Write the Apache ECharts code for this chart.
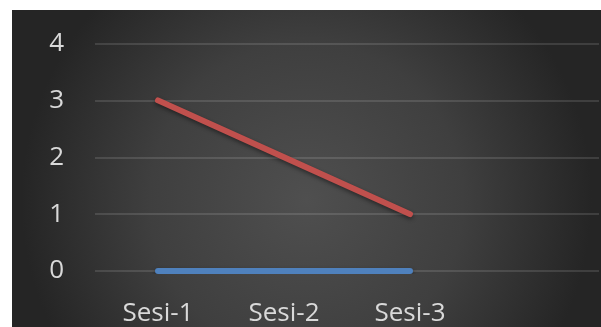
<!DOCTYPE html>
<html>
<head>
<meta charset="utf-8">
<script src="https://cdn.jsdelivr.net/npm/echarts@6/dist/echarts.min.js"></script>
<style>
  html, body { margin: 0; padding: 0; background: #ffffff; width: 601px; height: 327px; overflow: hidden; }
  #chart { position: absolute; left: 12px; top: 10px; width: 589px; height: 317px; }
</style>
</head>
<body>
<div id="chart"></div>
<script>
// Session categories (last slot left empty on purpose)
const categories = ['Sesi-1', 'Sesi-2', 'Sesi-3', ''];
// Series values per session
const seriesBlue = [0, 0, 0];
const seriesRed = [3, 2, 1];
// Value axis range
const yMin = 0;
const yMax = 4;
const yStep = 1;

const chart = echarts.init(document.getElementById('chart'), null, { renderer: 'canvas' });

const labelFont = '"Open Sans", "Noto Sans", sans-serif';

chart.setOption({
  animation: false,
  backgroundColor: {
    type: 'radial', x: 0.5, y: 0.6, r: 0.9,
    colorStops: [
      { offset: 0, color: '#4f4f4f' },
      { offset: 0.55, color: '#3f3f3f' },
      { offset: 1, color: '#252525' }
    ]
  },
  grid: { left: 83, top: 33.5, width: 504, height: 228, containLabel: false },
  xAxis: {
    type: 'category',
    data: categories,
    boundaryGap: true,
    axisLine: { show: false },
    axisTick: { show: false },
    axisLabel: { color: '#d9d9d9', fontFamily: labelFont, fontSize: 26, margin: 30 }
  },
  yAxis: {
    type: 'value',
    min: yMin, max: yMax, interval: yStep,
    axisLine: { show: false },
    axisTick: { show: false },
    axisLabel: { color: '#d9d9d9', fontFamily: labelFont, fontSize: 26, margin: 31 },
    splitLine: { lineStyle: { color: 'rgba(255,255,255,0.12)', width: 2 } }
  },
  series: [
    {
      type: 'line',
      data: seriesBlue,
      symbol: 'none',
      lineStyle: { color: '#4f81bd', width: 6, cap: 'round',
        shadowColor: 'rgba(0,0,0,0.45)', shadowBlur: 4, shadowOffsetY: 2 }
    },
    {
      type: 'line',
      data: seriesRed,
      symbol: 'none',
      lineStyle: { color: '#c0504d', width: 6, cap: 'round',
        shadowColor: 'rgba(0,0,0,0.45)', shadowBlur: 4, shadowOffsetY: 2 }
    }
  ]
});
</script>
</body>
</html>
